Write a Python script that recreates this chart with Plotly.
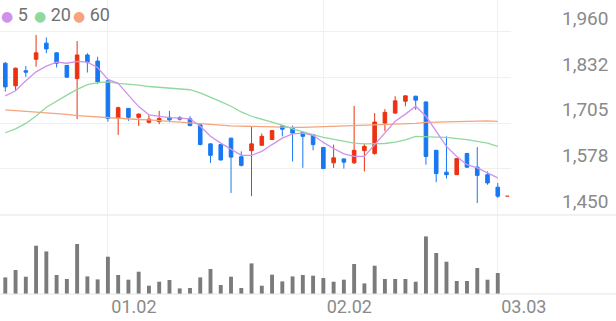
import plotly.graph_objects as go
from plotly.subplots import make_subplots

# ---- data ----
idx = list(range(49))
opens = [1872, 1809, 1851, 1883, 1928, 1901, 1866, 1829, 1895, 1878,
         1823, 1718, 1746, 1721, 1707, 1709, 1721, 1720, 1717, 1700,
         1647, 1645, 1663, 1611, 1628, 1643, 1659, 1697, 1691, 1679,
         1673, 1637, 1594, 1605, 1594, 1628, 1620, 1705, 1733, 1766,
         1780, 1764, 1629, 1568, 1561, 1620, 1582, 1561, 1526]
highs = [1875, 1860, 1864, 1951, 1944, 1903, 1867, 1934, 1900, 1890,
         1825, 1751, 1747, 1732, 1728, 1739, 1739, 1724, 1724, 1701,
         1648, 1646, 1664, 1626, 1694, 1676, 1685, 1698, 1698, 1680,
         1674, 1638, 1645, 1606, 1753, 1649, 1733, 1744, 1780, 1782,
         1781, 1765, 1630, 1668, 1607, 1622, 1638, 1570, 1538]
lows = [1793, 1795, 1834, 1862, 1900, 1860, 1832, 1716, 1846, 1814,
        1709, 1672, 1711, 1697, 1704, 1702, 1707, 1712, 1696, 1643,
        1594, 1601, 1510, 1584, 1501, 1642, 1658, 1668, 1598, 1580,
        1629, 1577, 1580, 1578, 1591, 1570, 1617, 1682, 1730, 1752,
        1742, 1589, 1540, 1550, 1560, 1580, 1482, 1533, 1496]
closes = [1806, 1858, 1847, 1901, 1912, 1872, 1833, 1895, 1875, 1820,
          1718, 1748, 1721, 1730, 1716, 1718, 1714, 1716, 1698, 1645,
          1615, 1602, 1610, 1587, 1647, 1668, 1684, 1688, 1677, 1668,
          1645, 1578, 1608, 1596, 1629, 1640, 1708, 1735, 1767, 1781,
          1769, 1612, 1564, 1561, 1606, 1582, 1559, 1538, 1501]
volumes = [166, 240, 173, 483, 426, 190, 150, 500, 176, 146,
           373, 190, 143, 223, 83, 123, 140, 56, 60, 166,
           250, 90, 173, 60, 306, 83, 193, 126, 176, 190,
           183, 160, 123, 143, 300, 106, 283, 150, 150, 150,
           123, 576, 410, 323, 130, 130, 260, 143, 210]
ma5 = [1781, 1795, 1823, 1848, 1864, 1875, 1872, 1877, 1875, 1860,
       1827, 1816, 1783, 1751, 1728, 1723, 1720, 1719, 1717, 1696,
       1668, 1649, 1631, 1615, 1615, 1626, 1645, 1663, 1675, 1677,
       1671, 1651, 1634, 1619, 1612, 1612, 1645, 1677, 1710, 1730,
       1752, 1724, 1682, 1640, 1612, 1589, 1580, 1566, 1552]
ma20 = [1678, 1689, 1704, 1725, 1749, 1767, 1783, 1799, 1812, 1818,
        1820, 1816, 1814, 1811, 1807, 1805, 1803, 1802, 1798, 1789,
        1778, 1765, 1752, 1736, 1724, 1716, 1708, 1699, 1689, 1682,
        1673, 1665, 1659, 1654, 1649, 1647, 1647, 1648, 1652, 1658,
        1668, 1668, 1666, 1665, 1663, 1659, 1654, 1649, 1640]
ma60 = [1742, 1740, 1739, 1737, 1735, 1732, 1729, 1726, 1724, 1722,
        1719, 1718, 1716, 1715, 1714, 1712, 1711, 1709, 1707, 1704,
        1701, 1699, 1697, 1696, 1695, 1694, 1694, 1693, 1693, 1693,
        1694, 1695, 1696, 1696, 1697, 1698, 1699, 1700, 1702, 1702,
        1704, 1707, 1708, 1709, 1710, 1711, 1712, 1711, 1710]
tick_idx = [10, 31, 48]
tick_text = ["01.02", "02.02", "03.03"]
price_ticks = [1450, 1577.5, 1705, 1832.5, 1960]
price_labels = ["1,450", "1,578", "1,705", "1,832", "1,960"]
ma_names = ["5", "20", "60"]

# ---- styles ----
RED = "#ec3212"
BLUE = "#1778f2"
MA_COLORS = ["#cf92ec", "#8fd99f", "#f7a47e"]
GRID = "#f0f0f0"
TXT = "#8a8a8a"
FONT = "Roboto"

fig = make_subplots(rows=2, cols=1, shared_xaxes=True, vertical_spacing=0,
                    row_heights=[0.7313, 0.2687])

for vals, col in zip([ma60, ma20, ma5], MA_COLORS[::-1]):
    fig.add_trace(go.Scatter(x=idx, y=vals, mode="lines",
                             line=dict(color=col, width=1.3),
                             hoverinfo="skip", showlegend=False), row=1, col=1)

fig.add_trace(go.Candlestick(
    x=idx, open=opens, high=highs, low=lows, close=closes,
    increasing=dict(line=dict(color=RED, width=1), fillcolor=RED),
    decreasing=dict(line=dict(color=BLUE, width=1), fillcolor=BLUE),
    whiskerwidth=0, showlegend=False, hoverinfo="skip"), row=1, col=1)

# current price marker
fig.add_trace(go.Scatter(x=[idx[-1] + 0.75, idx[-1] + 1.1], y=[closes[-1]] * 2,
                         mode="lines", line=dict(color="#f0553a", width=1.5),
                         hoverinfo="skip", showlegend=False), row=1, col=1)

fig.add_trace(go.Bar(x=idx, y=volumes, marker=dict(color="#7b7b7b", line=dict(width=0)),
                     width=0.38, hoverinfo="skip", showlegend=False), row=2, col=1)

xrange = [-0.517, 49.29]
common_x = dict(range=xrange, tickvals=tick_idx, showgrid=True, gridcolor=GRID,
                gridwidth=1, zeroline=False, showline=False, ticks="",
                fixedrange=True, automargin=False, rangeslider=dict(visible=False))
fig.update_xaxes(**common_x, showticklabels=False, row=1, col=1)
fig.update_xaxes(**common_x, showticklabels=True, ticktext=tick_text,
                 tickfont=dict(family=FONT, size=18, color=TXT),
                 ticklabelshift=26, ticklabelstandoff=0, row=2, col=1)

fig.update_yaxes(range=[1448.5, 2048.4], side="right", tickvals=price_ticks,
                 ticktext=price_labels, ticklabelposition="outside top",
                 ticklabelstandoff=50, showgrid=True, gridcolor=GRID, zeroline=False,
                 showline=False, ticks="", automargin=False, fixedrange=True,
                 tickfont=dict(family=FONT, size=19, color=TXT), row=1, col=1)
fig.update_yaxes(range=[0, 790], showgrid=False, showticklabels=False, zeroline=False,
                 showline=False, ticks="", automargin=False, fixedrange=True,
                 row=2, col=1)

xr = 616 / 511
fig.add_shape(type="line", xref="paper", yref="paper", x0=0, x1=xr, y0=0.2687, y1=0.2687,
              line=dict(color="#e4e4e4", width=1))
fig.add_shape(type="line", xref="paper", yref="paper", x0=0, x1=xr, y0=0, y1=0,
              line=dict(color="#e4e4e4", width=1))

# legend: coloured dot + period label
legend_x = [0, 33, 72]
for c, n, px in zip(MA_COLORS, ma_names, legend_x):
    fig.add_annotation(xref="paper", yref="paper", x=px / 511, y=1, xanchor="left",
                       yanchor="top", yshift=-3, showarrow=False, borderpad=0,
                       text=(f'<span style="color:{c};font-family:DejaVu Sans;'
                             f'font-size:14px">●</span> {n}'),
                       font=dict(family=FONT, size=18, color="#707070"))

fig.update_layout(width=616, height=321, margin=dict(l=0, r=105, t=0, b=27),
                  paper_bgcolor="white", plot_bgcolor="white", boxgap=0.5,
                  showlegend=False, hovermode=False, font=dict(family=FONT))

fig.write_html("out.html")
